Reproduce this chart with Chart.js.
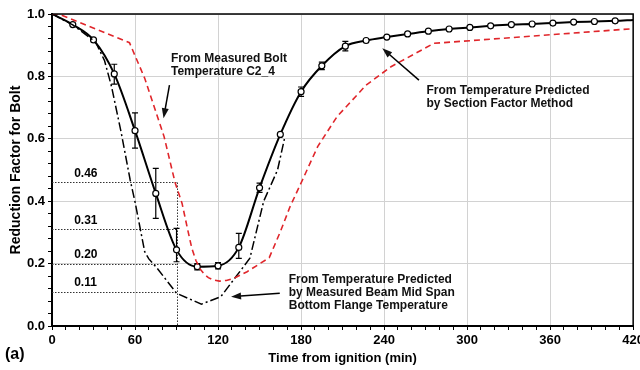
<!DOCTYPE html>
<html>
<head>
<meta charset="utf-8">
<script src="https://cdn.jsdelivr.net/npm/chart.js@4.4.1/dist/chart.umd.min.js"></script>
<style>
  html, body { margin: 0; padding: 0; background: #fff; overflow: hidden; }
  #wrap { position: relative; width: 647px; height: 370px; }
</style>
</head>
<body>
<div id="wrap"><canvas id="chart"></canvas></div>
<script>
// ---------- DATA ----------
const measuredTime  = [0, 15, 30, 45, 60, 75, 90, 105, 120, 135, 150, 165, 180, 195, 212, 227, 242, 257, 272, 287, 302, 317, 332, 347, 362, 377, 392, 407, 420];
const measuredValue = [1.0, 0.966, 0.917, 0.808, 0.626, 0.425, 0.244, 0.190, 0.193, 0.252, 0.443, 0.614, 0.751, 0.834, 0.897, 0.915, 0.926, 0.936, 0.945, 0.952, 0.957, 0.962, 0.966, 0.968, 0.971, 0.974, 0.976, 0.978, 0.981];
const errLow        = [0, 0, 0, 0.033, 0.056, 0.080, 0.038, 0.010, 0.010, 0.035, 0.015, 0, 0.015, 0.012, 0.015, 0, 0, 0, 0, 0, 0, 0, 0, 0, 0, 0, 0, 0, 0];
const errHigh       = [0, 0, 0, 0.031, 0.057, 0.080, 0.069, 0.010, 0.010, 0.045, 0.015, 0, 0.015, 0.012, 0.015, 0, 0, 0, 0, 0, 0, 0, 0, 0, 0, 0, 0, 0, 0];

const sectionTime  = [0, 5, 56, 67, 81, 89, 94, 98, 101, 104, 107, 110, 113, 117, 121, 126, 131, 141, 157, 165, 172, 181, 192, 206, 227, 245, 276, 420];
const sectionValue = [1.0, 1.0, 0.908, 0.794, 0.607, 0.459, 0.393, 0.310, 0.250, 0.210, 0.183, 0.166, 0.155, 0.147, 0.144, 0.146, 0.152, 0.174, 0.219, 0.302, 0.382, 0.468, 0.575, 0.671, 0.772, 0.831, 0.906, 0.953];

const beamTime  = [0, 15, 30, 32, 38, 43, 50, 56.5, 60, 67, 70, 76, 90, 108, 122, 143, 153, 157, 163, 168];
const beamValue = [1.0, 0.965, 0.915, 0.906, 0.85, 0.768, 0.62, 0.468, 0.398, 0.238, 0.215, 0.185, 0.105, 0.07, 0.094, 0.217, 0.40, 0.44, 0.50, 0.60];

const refLevels = [0.46, 0.31, 0.20, 0.11];
const refTime   = 90;

const xTickLabels = [0, 60, 120, 180, 240, 300, 360, 420];
const yTickLabels = [0.0, 0.2, 0.4, 0.6, 0.8, 1.0];

// annotation text, anchored in data units
const notes = [
  { lines: ["From Measured Bolt", "Temperature C2_4"], x: 86, y: 0.856, from: [84.9, 0.772], to: [80.6, 0.666] },
  { lines: ["From Temperature Predicted", "by Section Factor Method"], x: 270.6, y: 0.754, from: [265.2, 0.788], to: [238.7, 0.890] },
  { lines: ["From Temperature Predicted", "by Measured Beam Mid Span", "Bottom Flange Temperature"], x: 171.1, y: 0.150, from: [164.6, 0.105], to: [129.4, 0.094] },
];

const FONT = '"Liberation Sans", Arial, sans-serif';
const pts = (xs, ys) => xs.map((x, i) => ({ x: x, y: ys[i] }));

// ---------- PLUGINS ----------
const frame = {
  id: "frame",
  afterDraw(chart) {
    const { ctx, chartArea: a } = chart;
    ctx.save();
    ctx.strokeStyle = "#000";
    ctx.lineWidth = 1.5;
    ctx.beginPath();
    ctx.moveTo(a.left, a.top);
    ctx.lineTo(a.right, a.top);
    ctx.lineTo(a.right, a.bottom);
    ctx.stroke();
    ctx.restore();
  }
};

const refLines = {
  id: "refLines",
  beforeDatasetsDraw(chart) {
    const { ctx, scales: { x, y } } = chart;
    const xr = x.getPixelForValue(refTime);
    ctx.save();
    ctx.strokeStyle = "#333";
    ctx.lineWidth = 1;
    ctx.setLineDash([1.5, 1.5]);
    refLevels.forEach(v => {
      const yp = Math.round(y.getPixelForValue(v)) + 0.5;
      ctx.beginPath();
      ctx.moveTo(x.getPixelForValue(0), yp);
      ctx.lineTo(xr, yp);
      ctx.stroke();
    });
    ctx.beginPath();
    ctx.moveTo(Math.round(xr) + 0.5, y.getPixelForValue(refLevels[0]));
    ctx.lineTo(Math.round(xr) + 0.5, y.getPixelForValue(0));
    ctx.stroke();
    ctx.setLineDash([]);
    ctx.fillStyle = "#000";
    ctx.font = "bold 12px " + FONT;
    ctx.textBaseline = "middle";
    ctx.textAlign = "left";
    refLevels.forEach(v => {
      ctx.fillText(v.toFixed(2), x.getPixelForValue(16), y.getPixelForValue(v) - 9);
    });
    ctx.restore();
  }
};

const errorBars = {
  id: "errorBars",
  beforeDatasetDraw(chart, args) {
    if (args.index !== 2) return;
    const { ctx, scales: { x, y } } = chart;
    ctx.save();
    ctx.strokeStyle = "#000";
    ctx.lineWidth = 1.2;
    measuredTime.forEach((t, i) => {
      if (!errLow[i] && !errHigh[i]) return;
      const xp = x.getPixelForValue(t);
      const y1 = y.getPixelForValue(measuredValue[i] + errHigh[i]);
      const y2 = y.getPixelForValue(measuredValue[i] - errLow[i]);
      ctx.beginPath();
      ctx.moveTo(xp, y1); ctx.lineTo(xp, y2);
      ctx.moveTo(xp - 3, y1); ctx.lineTo(xp + 3, y1);
      ctx.moveTo(xp - 3, y2); ctx.lineTo(xp + 3, y2);
      ctx.stroke();
    });
    ctx.restore();
  }
};

const labels = {
  id: "labels",
  afterDraw(chart) {
    const { ctx, scales: { x, y } } = chart;
    ctx.save();
    ctx.fillStyle = "#111";
    ctx.strokeStyle = "#000";
    ctx.font = "bold 12px " + FONT;
    ctx.textBaseline = "middle";
    ctx.textAlign = "left";
    notes.forEach(n => {
      const x0 = x.getPixelForValue(n.x), y0 = y.getPixelForValue(n.y);
      n.lines.forEach((s, k) => ctx.fillText(s, x0, y0 + k * 13));
      const fx = x.getPixelForValue(n.from[0]), fy = y.getPixelForValue(n.from[1]);
      const tx = x.getPixelForValue(n.to[0]),   ty = y.getPixelForValue(n.to[1]);
      const ang = Math.atan2(ty - fy, tx - fx);
      ctx.lineWidth = 1.5;
      ctx.beginPath();
      ctx.moveTo(fx, fy);
      ctx.lineTo(tx - 6 * Math.cos(ang), ty - 6 * Math.sin(ang));
      ctx.stroke();
      ctx.beginPath();
      ctx.moveTo(tx, ty);
      ctx.lineTo(tx - 10 * Math.cos(ang) + 3.5 * Math.sin(ang), ty - 10 * Math.sin(ang) - 3.5 * Math.cos(ang));
      ctx.lineTo(tx - 10 * Math.cos(ang) - 3.5 * Math.sin(ang), ty - 10 * Math.sin(ang) + 3.5 * Math.cos(ang));
      ctx.closePath();
      ctx.fill();
    });
    ctx.font = "bold 16px " + FONT;
    ctx.fillStyle = "#000";
    ctx.fillText("(a)", 5, 355);
    ctx.restore();
  }
};

// ---------- CHART ----------
Chart.defaults.font.family = FONT;
Chart.defaults.color = "#000";

new Chart(document.getElementById("chart"), {
  type: "line",
  data: {
    datasets: [
      { data: pts(sectionTime, sectionValue), borderColor: "#e0262b", borderWidth: 1.6, borderDash: [6, 4], pointRadius: 0, tension: 0 },
      { data: pts(beamTime, beamValue), borderColor: "#000", borderWidth: 1.5, borderDash: [9, 3, 2, 3], pointRadius: 0, tension: 0 },
      { data: pts(measuredTime, measuredValue), borderColor: "#000", borderWidth: 2, cubicInterpolationMode: "monotone",
        pointRadius: measuredTime.map((t, i) => (i === 0 || i === measuredTime.length - 1) ? 0 : 3),
        pointBackgroundColor: "#fff", pointBorderColor: "#000", pointBorderWidth: 1.2 }
    ]
  },
  options: {
    responsive: true,
    maintainAspectRatio: false,
    animation: false,
    layout: { padding: { top: 14, left: 0, right: 0, bottom: 0 } },
    plugins: { legend: { display: false }, tooltip: { enabled: false } },
    scales: {
      x: {
        type: "linear", min: 0, max: 420,
        border: { color: "#000", width: 2 },
        grid: { color: c => xTickLabels.includes(c.tick.value) ? "#d2d2d2" : "rgba(0,0,0,0)", tickColor: "#000", tickLength: 4 },
        ticks: { stepSize: 10, autoSkip: false, maxRotation: 0, padding: 3, font: { size: 13, weight: "bold" },
                 callback: v => xTickLabels.includes(v) ? String(v) : "" },
        title: { display: true, text: "Time from ignition (min)", font: { size: 13, weight: "bold" }, padding: { top: 4, bottom: 4 } },
        afterFit: s => { s.height = 44; }
      },
      y: {
        min: 0, max: 1,
        border: { color: "#000", width: 2 },
        grid: { color: c => yTickLabels.some(t => Math.abs(t - c.tick.value) < 1e-6) ? "#d2d2d2" : "rgba(0,0,0,0)", tickColor: "#000", tickLength: 4 },
        ticks: { stepSize: 0.04, autoSkip: false, padding: 3, font: { size: 13, weight: "bold" },
                 callback: v => { const t = yTickLabels.find(t => Math.abs(t - v) < 1e-6); return t === undefined ? "" : t.toFixed(1); } },
        title: { display: true, text: "Reduction Factor for Bolt", font: { size: 14, weight: "bold" }, padding: { top: 8, bottom: 0 } },
        afterFit: s => { s.width = 52; }
      }
    }
  },
  plugins: [frame, refLines, errorBars, labels]
});
</script>
</body>
</html>
